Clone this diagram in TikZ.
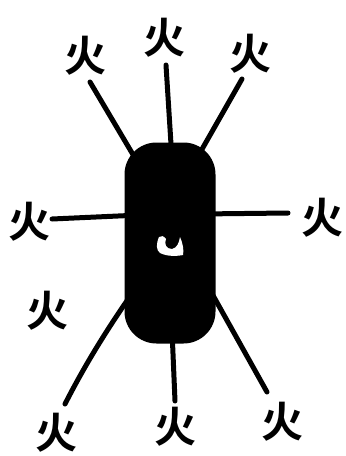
\documentclass[tikz,border=0pt]{standalone}
\usepackage{fontspec}
\newfontfamily\cjk{Noto Sans CJK SC}[BoldFont={* Bold}]
\tikzset{
  fire/.style={font=\cjk\bfseries\fontsize{42}{42}\selectfont, inner sep=0pt},
  ray/.style={line width=5pt, line cap=round},
  bodybox/.style={fill=black, rounded corners=32pt, minimum width=91pt, minimum height=201pt, inner sep=0pt}
}
\begin{document}
\begin{tikzpicture}[x=1pt,y=-1pt]
\useasboundingbox (0,0) rectangle (346,456);
% characters
\node[fire] (f1) at (85,56) {火};
\node[fire] (f2) at (164,38) {火};
\node[fire] (f3) at (250,54) {火};
\node[fire] (f4) at (30,222) {火};
\node[fire] (f5) at (322,218) {火};
\node[fire] (f6) at (48,311) {火};
\node[fire] (f7) at (56,433) {火};
\node[fire] (f8) at (175,427) {火};
\node[fire] (f9) at (282,422) {火};
% ray ends
\coordinate (e1) at (90,82);   \coordinate (s1) at (135,158);
\coordinate (e2) at (166,65);  \coordinate (s2) at (172,160);
\coordinate (e3) at (242,79);  \coordinate (s3) at (197,158);
\coordinate (e4) at (52,219);  \coordinate (s4) at (140,215);
\coordinate (e5) at (288,213); \coordinate (s5) at (200,214);
\coordinate (e7) at (65,404);  \coordinate (s7) at (133,292);
\coordinate (e8) at (175,401); \coordinate (s8) at (172,330);
\coordinate (e9) at (267,392); \coordinate (s9) at (210,290);
\foreach \i in {1,2,3,4,5,8,9} \draw[ray] (s\i) -- (e\i);
\draw[ray] (s7) .. controls (115,318) and (90,355) .. (e7);
% body
\node[bodybox] (body) at (170,243) {};
% white mark
\fill[white] (159,237) .. controls (156,244) and (156,250) .. (160,253)
  .. controls (168,257) and (178,256) .. (183,255)
  .. controls (184,250) and (183,244) .. (180,237)
  .. controls (179,243) and (177,248) .. (172,249)
  .. controls (166,249) and (164,244) .. (166,239)
  .. controls (164,236) and (161,235) .. cycle;
\end{tikzpicture}
\end{document}
